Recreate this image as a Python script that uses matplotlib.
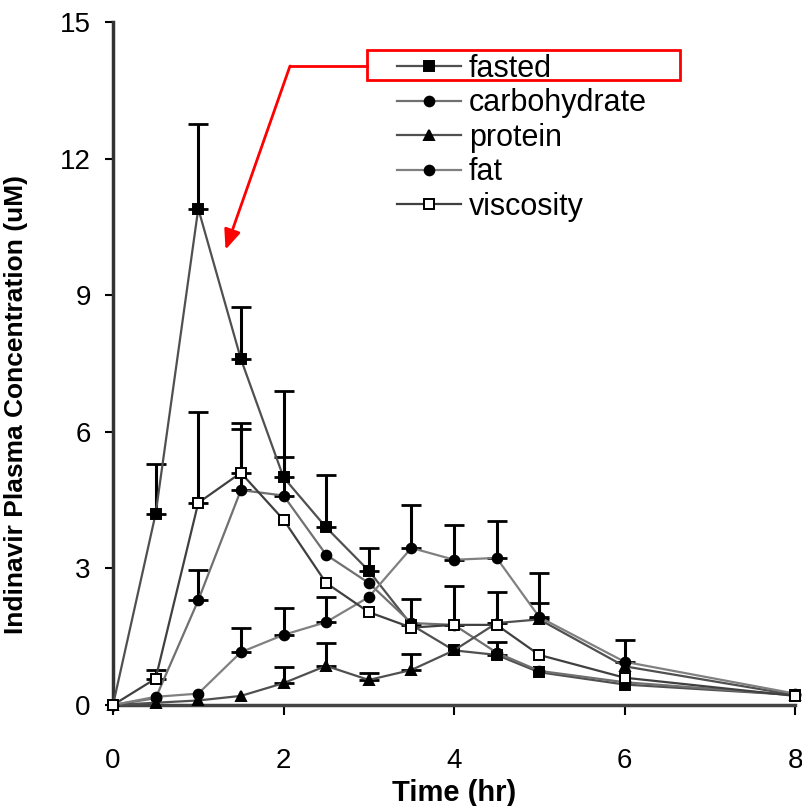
import numpy as np
import matplotlib.pyplot as plt
from matplotlib.patches import Rectangle
from matplotlib.lines import Line2D

# sampling times (hr)
time = [0, 0.5, 1, 1.5, 2, 2.5, 3, 3.5, 4, 4.5, 5, 6, 8]

# mean indinavir plasma concentration (uM) and upper error bar (+SD)
fasted = [0, 4.2, 10.9, 7.6, 5.0, 3.9, 2.95, 1.76, 1.2, 1.1, 0.72, 0.45, 0.22]
fasted_sd = [0, 1.1, 1.85, 1.15, 1.9, 1.15, 0.5, 0.57, 0, 0.28, 0, 0, 0]

carbohydrate = [0, 0.15, 2.3, 4.72, 4.6, 3.3, 2.68, 1.8, 1.76, 1.15, 0.75, 0.5, 0.22]
carbohydrate_sd = [0, 0, 0.67, 1.35, 0.85, 0, 0, 0, 0, 0, 0, 0, 0]

protein = [0, 0.05, 0.1, 0.2, 0.48, 0.86, 0.55, 0.77, 1.2, 1.8, 1.88, 0.85, 0.22]
protein_sd = [0, 0, 0, 0, 0.36, 0.5, 0.15, 0.36, 0, 0.68, 0.36, 0, 0]

fat = [0, 0.18, 0.25, 1.16, 1.54, 1.82, 2.37, 3.45, 3.19, 3.23, 1.93, 0.95, 0.25]
fat_sd = [0, 0, 0, 0.54, 0.6, 0.55, 0, 0.95, 0.77, 0.82, 0.97, 0.48, 0]

viscosity = [0, 0.58, 4.44, 5.1, 4.07, 2.68, 2.04, 1.7, 1.76, 1.76, 1.1, 0.6, 0.2]
viscosity_sd = [0, 0.19, 2.0, 1.1, 0, 0, 0, 0, 0.85, 0, 0, 0, 0]

labels = ['fasted', 'carbohydrate', 'protein', 'fat', 'viscosity']
x_ticks = [0, 2, 4, 6, 8]
y_ticks = [0, 3, 6, 9, 12, 15]

plt.rcParams['font.family'] = ['Liberation Sans', 'DejaVu Sans']

fig = plt.figure(figsize=(8.02, 8.06), dpi=100)
ax = fig.add_axes([0.1409, 0.1253, 0.8504, 0.8474])

series = [
    (fasted, fasted_sd, 's', 'black', '#505050'),
    (carbohydrate, carbohydrate_sd, 'o', 'black', '#707070'),
    (protein, protein_sd, '^', 'black', '#505050'),
    (fat, fat_sd, 'o', 'black', '#808080'),
    (viscosity, viscosity_sd, 's', 'white', '#404040'),
]

t = np.array(time)
handles = []
for (vals, sd, mk, face, lc), lab in zip(series, labels):
    v = np.array(vals)
    e = np.array(sd)
    m = e > 0
    ax.errorbar(t[m], v[m], yerr=[np.zeros(m.sum()), e[m]], fmt='none',
                ecolor='black', elinewidth=2.2, capsize=7, capthick=2,
                zorder=3)
    h, = ax.plot(t, v, color=lc, linewidth=1.6, marker=mk, markersize=7,
                 markerfacecolor=face, markeredgecolor='black',
                 markeredgewidth=1.4, clip_on=False, zorder=4, label=lab)
    handles.append(h)

ax.set_xlim(0, 8)
ax.set_ylim(0, 15)
ax.set_xticks(x_ticks)
ax.set_yticks(y_ticks)

for s in ['top', 'right']:
    ax.spines[s].set_visible(False)
ax.spines['left'].set_linewidth(2.5)
ax.spines['left'].set_color('#333333')
ax.spines['bottom'].set_linewidth(2.5)
ax.spines['bottom'].set_color('#444444')

ax.tick_params(axis='x', direction='out', length=7, width=1.5,
               labelsize=20, pad=24)
ax.tick_params(axis='y', direction='out', length=6, width=1.5,
               labelsize=20, pad=10)

ax.set_xlabel('Time (hr)', fontsize=21, fontweight='bold')
ax.xaxis.set_label_coords(0.5, -0.108)
ax.set_ylabel('Indinavir Plasma Concentration (uM)', fontsize=19,
              fontweight='bold')
ax.yaxis.set_label_coords(-0.125, 0.44)

leg = ax.legend(handles=handles, loc='upper left',
                bbox_to_anchor=(0.385, 0.985), frameon=False, fontsize=22,
                handlelength=2.1, handletextpad=0.25, labelspacing=0.15,
                borderpad=0.2)

# red highlight box round the "fasted" entry
fig.patches.append(Rectangle((367 / 802, 1 - 80 / 806), 313 / 802, 30 / 806,
                             transform=fig.transFigure, fill=False,
                             edgecolor='red', linewidth=2))
fig.lines.append(Line2D([367 / 802, 290 / 802], [1 - 66 / 806, 1 - 66 / 806],
                        transform=fig.transFigure, color='red', linewidth=2))
ax.annotate('', xy=(1.32, 10.0), xycoords='data',
            xytext=(290 / 802, 1 - 66 / 806), textcoords='figure fraction',
            arrowprops=dict(arrowstyle='-|>,head_length=1.2,head_width=0.5',
                            color='red', lw=2, shrinkA=0, shrinkB=0))

fig.savefig('out.png', dpi=100, facecolor='white')
